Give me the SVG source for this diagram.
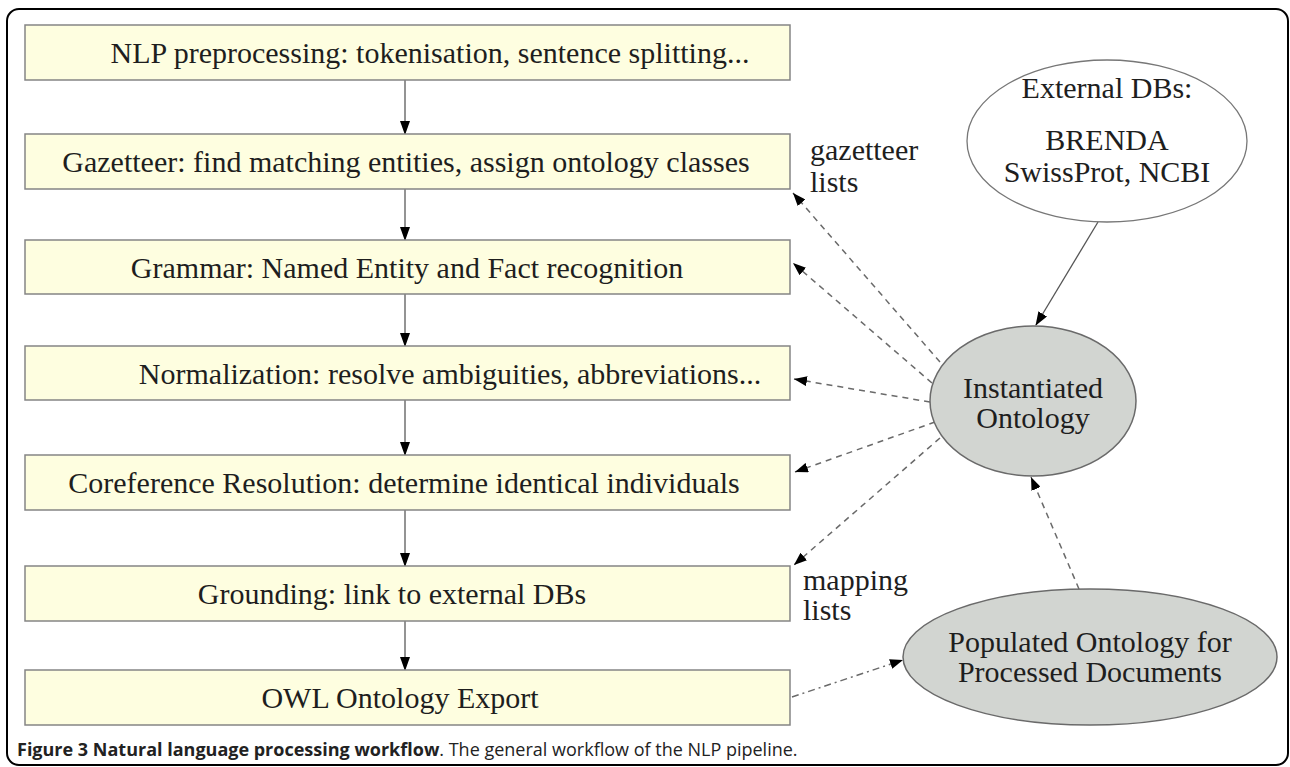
<svg xmlns="http://www.w3.org/2000/svg" width="1290" height="767" viewBox="0 0 1290 767">
<defs>
<style>
.box{fill:#fefee0;stroke:#858585;stroke-width:1.5}
.t{font-family:"Liberation Serif","Times New Roman",serif;font-size:30px;fill:#1e1e1e}
.c{text-anchor:middle}
.flow{stroke:#707070;stroke-width:1.5;fill:none}
.dash{stroke:#6a6a6a;stroke-width:1.5;fill:none;stroke-dasharray:6 5}
.dashdot{stroke:#6a6a6a;stroke-width:1.5;fill:none;stroke-dasharray:7 4 2 4}
.solid{stroke:#555;stroke-width:1.3;fill:none}
.ell{fill:#d2d5d1;stroke:#6a6a6a;stroke-width:1.5}
.cap{font-family:"Open Sans","Liberation Sans",sans-serif;font-size:18px;fill:#222}
</style>
<marker id="ah" markerWidth="14" markerHeight="10" refX="13" refY="5" orient="auto" markerUnits="userSpaceOnUse">
<path d="M0,0 L14,5 L0,10 Z" fill="#000"/>
</marker>
<marker id="ahs" markerWidth="13" markerHeight="10" refX="13" refY="5" orient="auto" markerUnits="userSpaceOnUse">
<path d="M0,0 L13,5 L0,10 Z" fill="#000"/>
</marker>
</defs>
<rect x="7" y="9" width="1281" height="756" rx="12" fill="#fff" stroke="#000" stroke-width="2"/>

<g id="connectors">
<line class="flow" x1="405" y1="80" x2="405" y2="134" marker-end="url(#ah)"/>
<line class="flow" x1="405" y1="189" x2="405" y2="240" marker-end="url(#ah)"/>
<line class="flow" x1="405" y1="294" x2="405" y2="346" marker-end="url(#ah)"/>
<line class="flow" x1="405" y1="400" x2="405" y2="455" marker-end="url(#ah)"/>
<line class="flow" x1="405" y1="510" x2="405" y2="566" marker-end="url(#ah)"/>
<line class="flow" x1="405" y1="621" x2="405" y2="670" marker-end="url(#ah)"/>
<line class="solid" x1="1098" y1="222" x2="1036" y2="325" marker-end="url(#ah)"/>
<line class="dash" x1="940" y1="362" x2="793" y2="193" marker-end="url(#ahs)"/>
<line class="dash" x1="932" y1="383" x2="793" y2="263" marker-end="url(#ahs)"/>
<line class="dash" x1="930" y1="402" x2="794" y2="379" marker-end="url(#ahs)"/>
<line class="dash" x1="935" y1="422" x2="795" y2="472" marker-end="url(#ahs)"/>
<line class="dash" x1="940" y1="438" x2="794" y2="565" marker-end="url(#ahs)"/>
<line class="dash" x1="1079" y1="589" x2="1031" y2="477" marker-end="url(#ahs)"/>
<line class="dashdot" x1="792" y1="697" x2="903" y2="660" marker-end="url(#ahs)"/>
</g>

<g id="n1"><rect class="box" x="25" y="25" width="765" height="55"/><text class="t c" x="430" y="63">NLP preprocessing: tokenisation, sentence splitting...</text></g>
<g id="n2"><rect class="box" x="25" y="134" width="765" height="55"/><text class="t c" x="406" y="172">Gazetteer: find matching entities, assign ontology classes</text></g>
<g id="n3"><rect class="box" x="25" y="240" width="765" height="54"/><text class="t c" x="407" y="278">Grammar: Named Entity and Fact recognition</text></g>
<g id="n4"><rect class="box" x="25" y="346" width="765" height="54"/><text class="t c" x="450" y="384">Normalization: resolve ambiguities, abbreviations...</text></g>
<g id="n5"><rect class="box" x="25" y="455" width="765" height="55"/><text class="t c" x="404" y="493">Coreference Resolution: determine identical individuals</text></g>
<g id="n6"><rect class="box" x="25" y="566" width="765" height="55"/><text class="t c" x="392" y="604">Grounding: link to external DBs</text></g>
<g id="n7"><rect class="box" x="25" y="670" width="765" height="55"/><text class="t c" x="400" y="708">OWL Ontology Export</text></g>

<g id="ext"><ellipse cx="1107" cy="141" rx="140" ry="81" fill="#fff" stroke="#777" stroke-width="1.3"/>
<text class="t c" x="1107" y="98">External DBs:</text>
<text class="t c" x="1107" y="150">BRENDA</text>
<text class="t c" x="1107" y="182">SwissProt, NCBI</text></g>

<g id="inst"><ellipse class="ell" cx="1033" cy="401" rx="103" ry="75"/>
<text class="t c" x="1033" y="398">Instantiated</text>
<text class="t c" x="1033" y="428">Ontology</text></g>

<g id="pop"><ellipse class="ell" cx="1090" cy="657" rx="187" ry="68"/>
<text class="t c" x="1090" y="652">Populated Ontology for</text>
<text class="t c" x="1090" y="682">Processed Documents</text></g>

<g id="labels">
<text class="t" x="810" y="160">gazetteer</text>
<text class="t" x="810" y="192">lists</text>
<text class="t" x="803" y="590">mapping</text>
<text class="t" x="803" y="620">lists</text>
</g>

<text class="cap" x="17" y="756"><tspan font-weight="bold">Figure 3 Natural language processing workflow</tspan>. The general workflow of the NLP pipeline.</text>
</svg>
